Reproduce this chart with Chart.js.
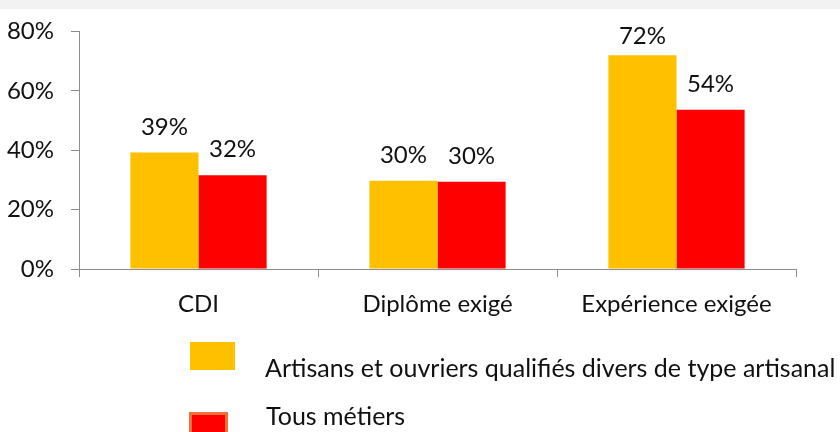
<!DOCTYPE html>
<html>
<head>
<meta charset="utf-8">
<script src="https://cdn.jsdelivr.net/npm/chart.js@4"></script>
<style>
  html, body { margin: 0; padding: 0; background: #fff; }
  #wrap { position: relative; width: 840px; height: 432px; overflow: hidden; }
  #strip { position: absolute; left: 0; top: 0; width: 840px; height: 9px; background: #f2f2f2; }
  #c { position: absolute; left: 0; top: 0; }
  .lg { position: absolute; font-family: Lato, sans-serif; color: #111; white-space: nowrap; font-size: 25px; line-height: 30px; }
  .sw { position: absolute; box-sizing: border-box; }
</style>
</head>
<body>
<div id="wrap">
  <div id="strip"></div>
  <canvas id="c" width="840" height="432"></canvas>
  <div class="sw" id="sw0" style="left:190px; top:342px; width:45px; height:28px;"></div>
  <div class="lg" id="lg0" style="left:265px; top:352px;"></div>
  <div class="sw" id="sw1" style="left:189px; top:412px; width:39px; height:28px;"></div>
  <div class="lg" id="lg1" style="left:266px; top:400px;"></div>
</div>
<script>
const categories = ["CDI", "Diplôme exigé", "Expérience exigée"];
const seriesNames = ["Artisans et ouvriers qualifiés divers de type artisanal", "Tous métiers"];
const artisansValues = [39.2, 29.7, 72.0];
const tousValues = [31.6, 29.4, 53.6];
const artisansLabels = ["39%", "30%", "72%"];
const tousLabels = ["32%", "30%", "54%"];
const yTicks = [0, 20, 40, 60, 80];

const colors = ["#FFC000", "#FF0000"];

// legend (real text)
document.getElementById("sw0").style.background = colors[0];
const sw1 = document.getElementById("sw1");
sw1.style.background = colors[1];
sw1.style.border = "3px solid #F07038";
document.getElementById("lg0").textContent = seriesNames[0];
document.getElementById("lg1").textContent = seriesNames[1];

const valueLabels = [artisansLabels, tousLabels];
const labelPlugin = {
  id: "valueLabels",
  afterDatasetsDraw(chart) {
    const ctx = chart.ctx;
    ctx.save();
    ctx.font = "24px Lato, sans-serif";
    ctx.fillStyle = "#111";
    ctx.textAlign = "center";
    ctx.textBaseline = "alphabetic";
    chart.data.datasets.forEach((ds, di) => {
      chart.getDatasetMeta(di).data.forEach((bar, i) => {
        const y = Math.max(bar.y - 18, chart.chartArea.top + 13);
        ctx.fillText(valueLabels[di][i], bar.x, y);
      });
    });
    ctx.restore();
  }
};

new Chart(document.getElementById("c"), {
  type: "bar",
  data: {
    labels: categories,
    datasets: [
      { label: seriesNames[0], data: artisansValues, backgroundColor: colors[0] },
      { label: seriesNames[1], data: tousValues, backgroundColor: colors[1] }
    ]
  },
  options: {
    responsive: false,
    animation: false,
    categoryPercentage: 0.57,
    barPercentage: 1.0,
    layout: { padding: { left: 0, right: 44, top: 26, bottom: 0 } },
    plugins: { legend: { display: false }, tooltip: { enabled: false } },
    scales: {
      x: {
        grid: { display: true, drawOnChartArea: false, drawTicks: true, tickLength: 8, color: "#8c8c8c", offset: true },
        border: { display: true, color: "#8c8c8c", width: 1 },
        ticks: { color: "#111", font: { family: "Lato, sans-serif", size: 24 }, padding: 13, maxRotation: 0 },
        afterFit(s) { s.height = 163; }
      },
      y: {
        min: 0, max: 80,
        afterBuildTicks(s) { s.ticks = yTicks.map(v => ({ value: v })); },
        grid: { display: true, drawOnChartArea: false, drawTicks: true, tickLength: 8, color: "#8c8c8c" },
        border: { display: true, color: "#8c8c8c", width: 1 },
        ticks: { color: "#111", font: { family: "Lato, sans-serif", size: 24 }, padding: 17, callback: v => v + "%" },
        afterFit(s) { s.width = 79; }
      }
    }
  },
  plugins: [labelPlugin]
});
</script>
</body>
</html>
